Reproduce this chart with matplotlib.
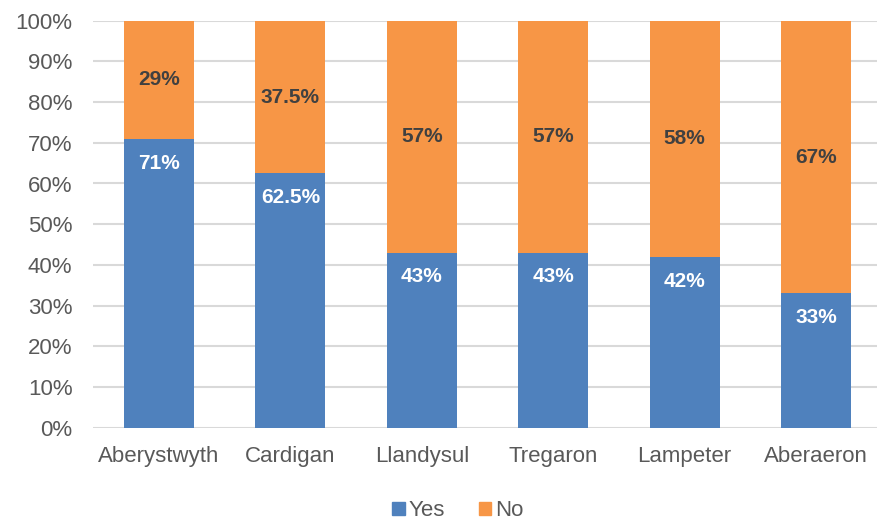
import matplotlib.pyplot as plt
from matplotlib.ticker import PercentFormatter
from matplotlib.patches import Patch

# --- Data ---
towns = ['Aberystwyth', 'Cardigan', 'Llandysul', 'Tregaron', 'Lampeter', 'Aberaeron']
yes_pct = [71, 62.5, 43, 43, 42, 33]
no_pct = [29, 37.5, 57, 57, 58, 67]
yes_labels = ['71%', '62.5%', '43%', '43%', '42%', '33%']
no_labels = ['29%', '37.5%', '57%', '57%', '58%', '67%']

blue = '#4F81BD'
orange = '#F79646'
grey_text = '#595959'

plt.rcParams['font.family'] = ['Liberation Sans', 'DejaVu Sans']

fig = plt.figure(figsize=(8.77, 5.2), dpi=100)
W, H = 877, 520
ax = fig.add_axes([93.3 / W, (H - 427.7) / H, (877 - 93.3) / W, (427.7 - 20.7) / H])

x = list(range(len(towns)))
width = 0.533
ax.bar(x, yes_pct, width, color=blue, zorder=2)
ax.bar(x, no_pct, width, bottom=yes_pct, color=orange, zorder=2)

# labels: Yes at inside end, No centered
for i in x:
    ax.annotate(yes_labels[i], (i, yes_pct[i]), xytext=(0, -17.5), textcoords='offset points',
                ha='center', va='center', color='white', fontsize=15, fontweight='bold')
    ax.text(i, yes_pct[i] + no_pct[i] / 2, no_labels[i], ha='center', va='center',
            color='#404040', fontsize=15, fontweight='bold')

ax.set_ylim(0, 100)
ax.set_xlim(-0.5, -0.5 + (877 - 93.3) / 131.4)
ax.set_yticks(range(0, 101, 10))
ax.yaxis.set_major_formatter(PercentFormatter(decimals=0))
ax.set_xticks(x)
ax.set_xticklabels(towns)
ax.tick_params(axis='both', length=0, colors=grey_text, labelsize=16)
ax.tick_params(axis='x', pad=13)
ax.tick_params(axis='y', pad=15)
ax.grid(axis='y', color='#D9D9D9', linewidth=1.5, zorder=0)
for s in ax.spines.values():
    s.set_visible(False)

handles = [Patch(color=blue, label='Yes'), Patch(color=orange, label='No')]
fig.legend(handles=handles, loc='center', bbox_to_anchor=(458 / W, 1 - 511 / H), ncol=2,
           frameon=False, fontsize=16, labelcolor=grey_text, handlelength=0.55, handleheight=0.55,
           handletextpad=0.2, columnspacing=1.5)

fig.savefig('out.png', dpi=100)
